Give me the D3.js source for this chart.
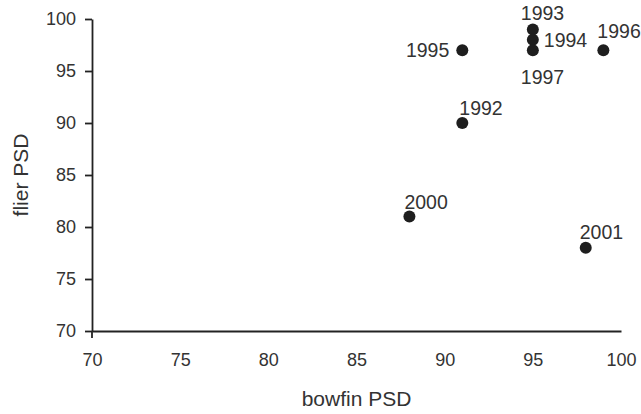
<!DOCTYPE html>
<html>
<head>
<meta charset="utf-8">
<script src="https://cdnjs.cloudflare.com/ajax/libs/d3/7.8.5/d3.min.js"></script>
<style>
  body { margin: 0; background: #fff; }
  text { font-family: "Liberation Sans", Arial, sans-serif; fill: #333; }
</style>
</head>
<body>
<svg id="chart" width="641" height="414"></svg>
<script>
// data
var years  = ['1992', '1993', '1994', '1995', '1996', '1997', '2000', '2001'];
var bowfin = [91, 95, 95, 91, 99, 95, 88, 98];
var flier  = [90, 99, 98, 97, 97, 97, 81, 78];
var tickValues = [70, 75, 80, 85, 90, 95, 100];

// where each year label sits relative to its dot
var labelPlace = {
  '1992': {dx: -3,  dy: -8,  anchor: 'start'},
  '1993': {dx: -12, dy: -9,  anchor: 'start'},
  '1994': {dx: 11,  dy: 7,   anchor: 'start'},
  '1995': {dx: -13, dy: 7,   anchor: 'end'},
  '1996': {dx: -6,  dy: -12, anchor: 'start'},
  '1997': {dx: -12, dy: 34,  anchor: 'start'},
  '2000': {dx: -5,  dy: -8,  anchor: 'start'},
  '2001': {dx: -6,  dy: -9,  anchor: 'start'}
};

var points = years.map(function(y, i) {
  return {year: y, x: bowfin[i], y: flier[i]};
});

var svg = d3.select('#chart');
var x = d3.scaleLinear().domain([70, 100]).range([92, 621]);
var y = d3.scaleLinear().domain([70, 100]).range([331, 19]);

// y axis
var yAxis = d3.axisLeft(y).tickValues(tickValues).tickSizeInner(7).tickSizeOuter(0).tickPadding(9);
var gy = svg.append('g').attr('transform', 'translate(' + x(70) + ',0)').call(yAxis);
gy.selectAll('.tick text').style('font-size', '18px').attr('fill', '#333');

// x axis (no ticks except the one at the origin)
var xAxis = d3.axisBottom(x).tickValues(tickValues).tickSize(0).tickPadding(22);
var gx = svg.append('g').attr('transform', 'translate(0,' + y(70) + ')').call(xAxis);
gx.selectAll('.tick text').style('font-size', '18px').attr('fill', '#333');
svg.append('line')
  .attr('x1', x(70)).attr('x2', x(70))
  .attr('y1', y(70)).attr('y2', y(70) + 7)
  .attr('stroke', '#222').attr('stroke-width', 1.8);

svg.selectAll('.domain, .tick line').attr('stroke', '#222').attr('stroke-width', 1.8);

// axis titles
svg.append('text')
  .attr('x', (x(70) + x(100)) / 2).attr('y', 406)
  .attr('text-anchor', 'middle')
  .style('font-size', '21px')
  .text('bowfin PSD');

svg.append('text')
  .attr('transform', 'translate(28,' + ((y(70) + y(100)) / 2) + ') rotate(-90)')
  .attr('text-anchor', 'middle')
  .style('font-size', '21px')
  .text('flier PSD');

// dots
svg.selectAll('circle.pt')
  .data(points)
  .enter().append('circle')
    .attr('class', 'pt')
    .attr('cx', function(d) { return x(d.x); })
    .attr('cy', function(d) { return y(d.y); })
    .attr('r', 6)
    .attr('fill', '#1e1e1e');

// year labels
svg.selectAll('text.lbl')
  .data(points)
  .enter().append('text')
    .attr('class', 'lbl')
    .attr('x', function(d) { return x(d.x) + labelPlace[d.year].dx; })
    .attr('y', function(d) { return y(d.y) + labelPlace[d.year].dy; })
    .attr('text-anchor', function(d) { return labelPlace[d.year].anchor; })
    .style('font-size', '19.5px')
    .text(function(d) { return d.year; });
</script>
</body>
</html>
